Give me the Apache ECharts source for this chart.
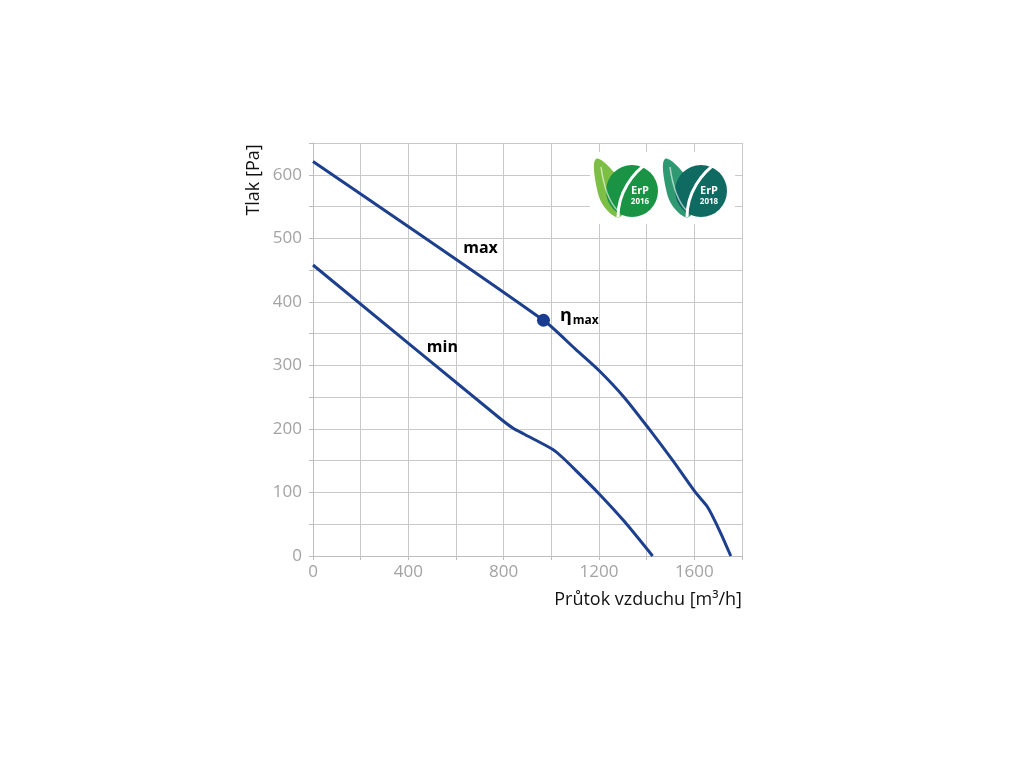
<!DOCTYPE html>
<html>
<head>
<meta charset="utf-8">
<script src="https://cdn.jsdelivr.net/npm/echarts@6/dist/echarts.min.js"></script>
<style>
  html, body { margin: 0; padding: 0; background: #fff; }
  #chart { width: 1024px; height: 768px; }
</style>
</head>
<body>
<div id="chart"></div>
<script>
// curve points [flow m3/h, pressure Pa]
const maxCurve = [[0, 621], [967, 371], [1100, 326], [1200, 292], [1305, 250], [1410, 200],
  [1510, 150], [1605, 100], [1650, 80], [1672, 66], [1712, 35], [1753, 0]];
const minCurve = [[0, 458], [780, 218], [840, 201], [885, 192], [1005, 168], [1047, 155],
  [1110, 132], [1195, 100], [1305, 55], [1425, 0]];
const etaPoint = [967, 371];
const curveLabels = [{ name: "max", value: [703, 484] }, { name: "min", value: [543, 328] }];
const xTicks = [0, 400, 800, 1200, 1600];
const yTicks = [0, 100, 200, 300, 400, 500, 600];

const blue = "#1c3f8e";
const font = "'Open Sans', 'Noto Sans', sans-serif";

const chart = echarts.init(document.getElementById("chart"));

// ErP badge drawn with plain shapes
function badge(cx, cy, leaf, disc, year) {
  return [
    {
      type: "polygon", z: 10,
      shape: {
        points: [[cx - 32, cy - 30], [cx - 31, cy], [cx - 22, cy + 20], [cx - 8, cy + 28], [cx - 2, cy + 8], [cx - 12, cy - 14]],
        smooth: 0.4
      },
      style: { fill: leaf }
    },
    { type: "circle", z: 11, shape: { cx: cx + 4, cy: cy + 2, r: 26 }, style: { fill: disc } },
    {
      type: "bezierCurve", z: 12,
      shape: { x1: cx + 22, y1: cy - 28, cpx1: cx + 4, cpy1: cy - 16, cpx2: cx - 10, cpy2: cy + 4, x2: cx - 10, y2: cy + 28 },
      style: { fill: null, stroke: "#fff", lineWidth: 3 }
    },
    {
      type: "bezierCurve", z: 12,
      shape: { x1: cx - 27, y1: cy - 22, cpx1: cx - 24, cpy1: cy, cpx2: cx - 18, cpy2: cy + 14, x2: cx - 10, y2: cy + 22 },
      style: { fill: null, stroke: "rgba(255,255,255,0.6)", lineWidth: 1.5 }
    },
    {
      type: "text", z: 13, x: cx + 12, y: cy + 2,
      style: { text: "ErP", fill: "#fff", font: "bold 11px " + font, textAlign: "center", textVerticalAlign: "middle" }
    },
    {
      type: "text", z: 13, x: cx + 12, y: cy + 13,
      style: { text: year, fill: "#fff", font: "bold 8px " + font, textAlign: "center", textVerticalAlign: "middle" }
    }
  ];
}

const option = {
  animation: false,
  backgroundColor: "#fff",
  grid: { left: 313, right: 282, top: 143, bottom: 212 },
  xAxis: {
    type: "value",
    min: 0, max: 1800, interval: 200,
    axisLine: { lineStyle: { color: "#bdbdbd" } },
    axisTick: { show: true, length: 4, lineStyle: { color: "#bdbdbd" } },
    splitLine: { lineStyle: { color: "#c9c9c9" } },
    axisLabel: {
      color: "#a3a3a3", fontSize: 17, fontFamily: font, margin: 8,
      formatter: (v) => (xTicks.includes(v) ? String(v) : "")
    }
  },
  yAxis: {
    type: "value",
    min: 0, max: 650, interval: 50,
    axisLine: { show: true, lineStyle: { color: "#bdbdbd" } },
    axisTick: { show: true, length: 4, lineStyle: { color: "#bdbdbd" } },
    splitLine: { lineStyle: { color: "#c9c9c9" } },
    axisLabel: {
      color: "#a3a3a3", fontSize: 17, fontFamily: font, margin: 11,
      formatter: (v) => (yTicks.includes(v) ? String(v) : "")
    }
  },
  graphic: [
    {
      type: "text", x: 254, y: 180, rotation: Math.PI / 2,
      style: { text: "Tlak [Pa]", fill: "#111", font: "18px " + font, textAlign: "center", textVerticalAlign: "middle" }
    },
    {
      type: "text", x: 742, y: 600,
      style: { text: "Průtok vzduchu [m³/h]", fill: "#111", font: "18px " + font, textAlign: "right", textVerticalAlign: "middle" }
    },
    { type: "rect", z: 9, shape: { x: 590, y: 152, width: 145, height: 72 }, style: { fill: "#fff" } },
    ...badge(628, 189, "#7dbf45", "#1a9444", "2016"),
    ...badge(697, 189, "#2f9a72", "#0f6b62", "2018")
  ],
  series: [
    {
      type: "line", data: maxCurve, smooth: 0.25, showSymbol: false,
      lineStyle: { color: blue, width: 3 }, z: 3
    },
    {
      type: "line", data: minCurve, smooth: 0.25, showSymbol: false,
      lineStyle: { color: blue, width: 3 }, z: 3
    },
    {
      type: "scatter", data: [etaPoint], symbolSize: 13, z: 4,
      itemStyle: { color: "#1a3c90", opacity: 1 },
      label: {
        show: true, position: "right", distance: 10, offset: [0, -4],
        formatter: "{a|η}{b|max}",
        rich: {
          a: { fontSize: 18, fontWeight: "bold", color: "#000", fontFamily: font },
          b: { fontSize: 12, fontWeight: "bold", color: "#000", fontFamily: font, padding: [8, 0, 0, 1] }
        }
      }
    },
    {
      type: "scatter", data: curveLabels, symbolSize: 1, z: 4,
      itemStyle: { color: "transparent", opacity: 1 },
      label: {
        show: true, position: "inside", formatter: "{b}", textBorderWidth: 0,
        color: "#000", fontSize: 16, fontWeight: "bold", fontFamily: font
      }
    }
  ]
};

chart.setOption(option);
</script>
</body>
</html>
